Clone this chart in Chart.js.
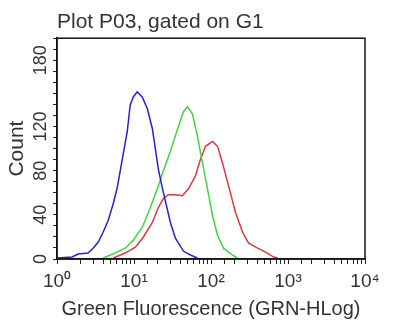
<!DOCTYPE html>
<html>
<head>
<meta charset="utf-8">
<script src="https://cdn.jsdelivr.net/npm/chart.js@4"></script>
<style>
  body { margin: 0; background: #fff; }
</style>
</head>
<body>
<canvas id="histChart" width="400" height="335"></canvas>
<script>
// Histogram traces (fluorescence value, event count)
const blueX     = [1.00, 1.57, 1.88, 2.53, 2.94, 3.42, 3.97, 4.62, 5.37, 6.05, 6.62, 7.24, 8.17, 8.94, 9.78, 11.0, 12.8, 14.9, 17.3, 18.9, 20.7, 23.3, 25.5, 29.7, 34.5, 43.8, 54.1, 66.7];
const blueCount = [0.9, 1.8, 4.5, 5.4, 9.8, 15.2, 24.2, 34.9, 50.1, 64.5, 79.7, 94.9, 115.5, 139.7, 146.8, 151.3, 146.8, 136.1, 118.2, 100.3, 81.5, 64.5, 52.8, 33.1, 18.8, 7.2, 3.6, 0.9];

const greenX     = [3.97, 5.70, 7.69, 9.78, 12.8, 16.3, 20.1, 24.0, 29.7, 36.6, 43.8, 49.4, 57.4, 66.7, 77.5, 90.0, 104.6, 121.6, 145.6, 190.5, 221];
const greenCount = [0.9, 5.4, 9.8, 17.0, 28.6, 46.6, 63.6, 79.7, 97.6, 117.3, 133.4, 137.9, 131.6, 111.0, 86.8, 63.6, 39.4, 21.5, 9.8, 3.6, 0.9];

const redX     = [5.37, 7.69, 10.4, 13.2, 17.3, 20.7, 24.0, 27.9, 34.5, 42.5, 50.9, 62.8, 73.0, 84.8, 104.6, 121.6, 141.3, 169.0, 208.5, 257.0, 308.2, 403.7, 513, 652, 735];
const redCount = [0.9, 5.4, 10.7, 19.7, 33.1, 46.6, 54.6, 58.2, 58.2, 57.3, 63.6, 75.2, 90.4, 102.1, 106.5, 102.1, 86.8, 66.2, 42.1, 24.2, 14.3, 9.8, 6.3, 1.8, 0.9];

const yLabels = [0, 40, 80, 120, 180];
const sup = { 0: '\u2070', 1: '\u00B9', 2: '\u00B2', 3: '\u00B3', 4: '\u2074' };

const toPoints = (xs, ys) => xs.map((x, i) => ({ x: x, y: ys[i] }));
const FONT = "'Liberation Sans', Arial, sans-serif";

// frame round the plot area
const boxPlugin = {
    id: 'plotBox',
    afterDraw(chart) {
        const a = chart.chartArea;
        const ctx = chart.ctx;
        ctx.save();
        ctx.strokeStyle = '#111';
        ctx.lineWidth = 1.5;
        ctx.strokeRect(a.left, a.top, a.right - a.left, a.bottom - a.top);
        ctx.restore();
    }
};

new Chart(document.getElementById('histChart'), {
    type: 'line',
    data: {
        datasets: [
            { data: toPoints(blueX, blueCount), borderColor: '#2424cf' },
            { data: toPoints(greenX, greenCount), borderColor: '#40d840' },
            { data: toPoints(redX, redCount), borderColor: '#e0383a' }
        ]
    },
    options: {
        responsive: false,
        animation: false,
        layout: { padding: { left: 0, right: 35, top: 0, bottom: 0 } },
        elements: {
            line: { borderWidth: 1.5, tension: 0, fill: false },
            point: { radius: 0 }
        },
        plugins: {
            legend: { display: false },
            tooltip: { enabled: false },
            title: {
                display: true,
                text: 'Plot P03, gated on G1',
                align: 'start',
                fullSize: false,
                color: '#333',
                font: { family: FONT, size: 21, weight: 'normal' },
                padding: { top: 10, bottom: 3 }
            }
        },
        scales: {
            x: {
                type: 'logarithmic',
                min: 1,
                max: 10000,
                afterFit: s => { s.height = 76; },
                border: { color: '#111', width: 1.5 },
                grid: { drawOnChartArea: false, tickLength: 5, color: '#222' },
                ticks: {
                    autoSkip: false,
                    maxRotation: 0,
                    padding: 6,
                    color: '#333',
                    font: { family: FONT, size: 19 },
                    callback: v => {
                        const e = Math.log10(v);
                        return Math.abs(e - Math.round(e)) < 1e-9 ? '10' + sup[Math.round(e)] : '';
                    }
                },
                title: {
                    display: true,
                    text: 'Green Fluorescence (GRN-HLog)',
                    color: '#333',
                    font: { family: FONT, size: 20 },
                    padding: { top: 0, bottom: 13.5 }
                }
            },
            y: {
                min: 0,
                max: 200,
                afterFit: s => { s.width = 57; },
                border: { color: '#111', width: 1.5 },
                grid: { drawOnChartArea: false, tickLength: 4, color: '#222' },
                ticks: {
                    stepSize: 10,
                    autoSkip: false,
                    minRotation: 90,
                    maxRotation: 90,
                    crossAlign: 'center',
                    padding: -3,
                    color: '#333',
                    font: { family: FONT, size: 18 },
                    callback: v => yLabels.includes(v) ? String(v) : ''
                },
                title: {
                    display: true,
                    text: 'Count',
                    color: '#333',
                    font: { family: FONT, size: 21 },
                    padding: { top: 4.4, bottom: 0 }
                }
            }
        }
    },
    plugins: [boxPlugin]
});
</script>
</body>
</html>
